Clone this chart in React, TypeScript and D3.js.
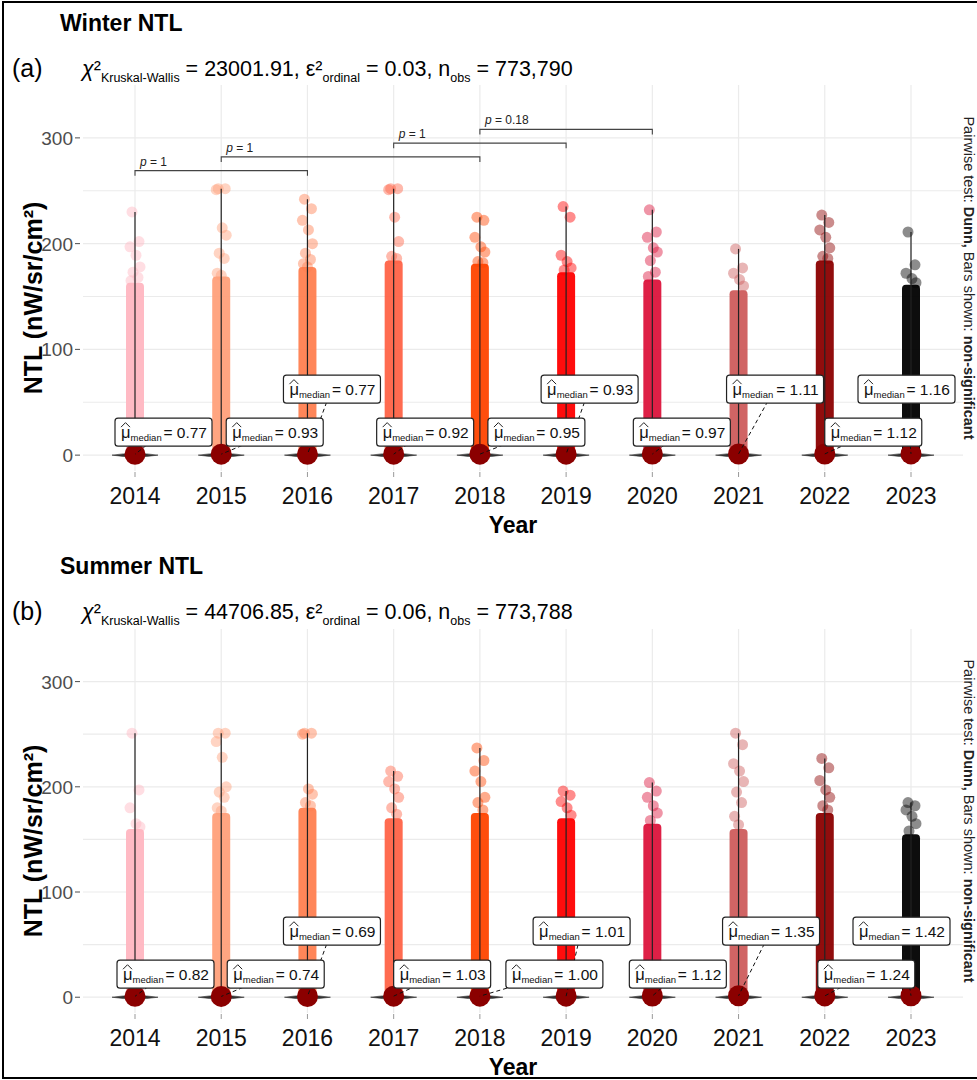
import React from "react";
import * as d3 from "d3";

const FONT = "'Liberation Sans', Arial, sans-serif";

// categories and colours
const years = ["2014", "2015", "2016", "2017", "2018", "2019", "2020", "2021", "2022", "2023"];
const yearColors = [
  "#FFB6C1", "#FFA07A", "#FF7F50", "#FF6347", "#FF4500",
  "#FF0000", "#DC143C", "#CD5C5C", "#8B0000", "#000000",
];
const yTicks = [0, 100, 200, 300];
const gridValues = [0, 50, 100, 150, 200, 250, 300];

// winter NTL (panel a)
const winterMedian = [0.77, 0.93, 0.77, 0.92, 0.95, 0.93, 0.97, 1.11, 1.12, 1.16];
const winterMax = [230, 252, 242, 252, 225, 235, 232, 195, 227, 211];
const winterDenseTop = [163, 169, 178, 184, 181, 173, 166, 156, 184, 161];
const winterOutliers = [
  [230, 202, 197, 189, 178, 173, 168, 165],
  [252, 252, 251, 215, 208, 191, 186, 172, 170],
  [242, 233, 222, 213, 200, 191, 185, 181, 178],
  [252, 252, 251, 225, 202, 188, 186],
  [225, 222, 206, 197, 192, 183, 182],
  [235, 225, 189, 183, 177, 175],
  [232, 211, 206, 196, 192, 184, 173, 169],
  [195, 177, 172, 166, 160],
  [227, 220, 213, 206, 196, 188, 186],
  [211, 180, 172, 167, 163],
];

// summer NTL (panel b)
const summerMedian = [0.82, 0.74, 0.69, 1.03, 1.0, 1.01, 1.12, 1.35, 1.24, 1.42];
const summerMax = [251, 251, 251, 215, 237, 196, 204, 251, 227, 185];
const summerDenseTop = [160, 175, 180, 170, 175, 170, 165, 160, 175, 155];
const summerOutliers = [
  [251, 197, 180, 165, 162],
  [251, 251, 243, 228, 200, 195, 190, 180, 177],
  [251, 251, 250, 198, 193, 185, 182],
  [215, 210, 205, 198, 190, 180, 174],
  [237, 225, 215, 205, 190, 185, 178],
  [196, 192, 186, 180, 173],
  [204, 196, 190, 182, 175, 168],
  [251, 240, 222, 215, 205, 195, 185, 172, 164],
  [227, 218, 206, 197, 190, 182, 178],
  [185, 182, 178, 172, 165, 158],
];

// pairwise comparisons shown (panel a)
const bracketFrom = ["2014", "2015", "2017", "2018"];
const bracketTo = ["2016", "2018", "2019", "2020"];
const bracketP = ["1", "1", "1", "0.18"];
const bracketLevel = [269, 282, 295, 308];

// label placement (like ggrepel output)
const labelTier = [0, 0, 1, 0, 0, 1, 0, 1, 0, 1];
const labelDxA = [-20, 5, -24, -17, 8, -25, -19, -12, 0, -53];
const labelDxB = [-18, 6, -24, 0, 26, -33, -23, -16, -7, -58];
const jitter = [-3, 4, -5, 1, 5, -2, 3, -4, 0, 2];

const x = d3.scalePoint<string>().domain(years).range([135, 911]);

function MedianLabel({ bx, by, value }: { bx: number; by: number; value: string }) {
  const w = 97;
  const h = 28;
  return (
    <g>
      <rect x={bx} y={by} width={w} height={h} rx={3} fill="#fff" stroke="#222" strokeWidth={1.2} />
      <path
        d={`M${bx + 6},${by + 9} L${bx + 10.5},${by + 4.5} L${bx + 15},${by + 9}`}
        fill="none"
        stroke="#222"
        strokeWidth={1}
      />
      <text x={bx + 6} y={by + 20} fontSize={16.5} fontFamily={FONT} fill="#111">
        μ
        <tspan fontSize={9.5} dy={3}>median</tspan>
      </text>
      <text x={bx + w - 5} y={by + 20} textAnchor="end" fontSize={15.5} fontFamily={FONT} fill="#111">
        {`= ${value}`}
      </text>
    </g>
  );
}

function Panel(props: {
  top: number;
  bottom: number;
  titleY: number;
  title: string;
  tag: string;
  chi: string;
  eps: string;
  nobs: string;
  medians: number[];
  maxes: number[];
  dense: number[];
  outliers: number[][];
  labelDx: number[];
  brackets: boolean;
}) {
  const { top, bottom, titleY, medians, maxes, dense, outliers, labelDx } = props;
  const y = d3.scaleLinear().domain([-15, 350]).range([bottom, top]);
  const y0 = y(0);
  const midY = (top + bottom) / 2;

  return (
    <g>
      <text x={60} y={titleY} fontSize={23} fontWeight="bold" fontFamily={FONT}>
        {props.title}
      </text>
      <text x={12} y={titleY + 46} fontSize={25} fontFamily={FONT}>
        {props.tag}
      </text>
      <text x={82} y={titleY + 45} fontSize={21.5} fontFamily={FONT}>
        <tspan fontStyle="italic">χ</tspan>
        <tspan>²</tspan>
        <tspan fontSize={12.5} dy={6}>Kruskal-Wallis</tspan>
        <tspan dy={-6}>{` = ${props.chi}, ε²`}</tspan>
        <tspan fontSize={12.5} dy={6}>ordinal</tspan>
        <tspan dy={-6}>{` = ${props.eps}, n`}</tspan>
        <tspan fontSize={12.5} dy={6}>obs</tspan>
        <tspan dy={-6}>{` = ${props.nobs}`}</tspan>
      </text>

      {/* grid */}
      {gridValues.map((v) => (
        <line key={"h" + v} x1={83} x2={963} y1={y(v)} y2={y(v)} stroke="#EBEBEB" strokeWidth={1.2} />
      ))}
      {years.map((yr) => (
        <line key={"v" + yr} x1={x(yr)} x2={x(yr)} y1={top} y2={bottom} stroke="#EBEBEB" strokeWidth={1.2} />
      ))}

      {/* y axis */}
      {yTicks.map((v) => (
        <g key={"t" + v}>
          <line x1={75} x2={80} y1={y(v)} y2={y(v)} stroke="#4D4D4D" />
          <text x={73} y={y(v) + 7} textAnchor="end" fontSize={19} fill="#4D4D4D" fontFamily={FONT}>
            {v}
          </text>
        </g>
      ))}
      <text
        transform={`translate(42,${midY + 20}) rotate(-90)`}
        textAnchor="middle"
        fontSize={25}
        fontWeight="bold"
        fontFamily={FONT}
      >
        NTL (nW/sr/cm²)
      </text>

      {/* x axis */}
      {years.map((yr) => (
        <g key={"x" + yr}>
          <line x1={x(yr)} x2={x(yr)} y1={bottom + 1} y2={bottom + 6} stroke="#999" />
          <text x={x(yr)} y={bottom + 33} textAnchor="middle" fontSize={23} fill="#111" fontFamily={FONT}>
            {yr}
          </text>
        </g>
      ))}
      <text x={513} y={bottom + 62} textAnchor="middle" fontSize={23} fontWeight="bold" fontFamily={FONT}>
        Year
      </text>

      {/* jittered observations */}
      {years.map((yr, i) => {
        const cx = x(yr) as number;
        return (
          <g key={"p" + yr} fill={yearColors[i]}>
            <rect
              x={cx - 9}
              y={y(dense[i])}
              width={18}
              height={y0 + 4 - y(dense[i])}
              rx={4}
              opacity={0.95}
            />
            {outliers[i].map((v, j) => (
              <circle key={j} cx={cx + jitter[j % jitter.length]} cy={y(v)} r={5.5} fillOpacity={0.45} />
            ))}
          </g>
        );
      })}

      {/* violin outline + whisker + median point */}
      {years.map((yr, i) => {
        const cx = x(yr) as number;
        return (
          <g key={"m" + yr}>
            <path
              d={`M${cx - 23},${y0} Q${cx},${y0 - 3.5} ${cx + 23},${y0} Q${cx},${y0 + 3.5} ${cx - 23},${y0} Z`}
              fill="#333"
              stroke="#333"
              strokeWidth={0.6}
            />
            <line x1={cx} x2={cx} y1={y(maxes[i])} y2={y0} stroke="#222" strokeWidth={1.2} />
            <circle cx={cx} cy={y(medians[i])} r={10.5} fill="#8B0000" />
          </g>
        );
      })}

      {/* pairwise brackets */}
      {props.brackets &&
        bracketFrom.map((f, i) => {
          const x1 = x(f) as number;
          const x2 = x(bracketTo[i]) as number;
          const by = y(bracketLevel[i]);
          return (
            <g key={"b" + i}>
              <path
                d={`M${x1},${by + 5} L${x1},${by} L${x2},${by} L${x2},${by + 5}`}
                fill="none"
                stroke="#444"
                strokeWidth={1.1}
              />
              <text x={x1 + 5} y={by - 5} fontSize={12} fill="#222" fontFamily={FONT}>
                <tspan fontStyle="italic">p</tspan>
                {` = ${bracketP[i]}`}
              </text>
            </g>
          );
        })}

      {/* median labels */}
      {years.map((yr, i) => {
        const cx = x(yr) as number;
        const by = labelTier[i] ? y0 - 80 : y0 - 37;
        const bx = cx + labelDx[i];
        return (
          <line
            key={"s" + yr}
            x1={bx + 48}
            y1={by + 14}
            x2={cx}
            y2={y(medians[i])}
            stroke="#111"
            strokeWidth={1}
            strokeDasharray="4,3"
          />
        );
      })}
      {years.map((yr, i) => {
        const cx = x(yr) as number;
        const by = labelTier[i] ? y0 - 80 : y0 - 37;
        return <MedianLabel key={"lb" + yr} bx={cx + labelDx[i]} by={by} value={medians[i].toFixed(2)} />;
      })}

      {/* caption on the right */}
      <text transform={`translate(964,${midY}) rotate(90)`} textAnchor="middle" fontSize={14.5} fill="#222" fontFamily={FONT}>
        {"Pairwise test: "}
        <tspan fontWeight="bold">Dunn,</tspan>
        {" Bars shown: "}
        <tspan fontWeight="bold">non-significant</tspan>
      </text>
    </g>
  );
}

export default function App() {
  return (
    <svg
      width={977}
      height={1080}
      style={{ position: "absolute", left: 0, top: 0, background: "#fff" }}
    >
      <rect x={0} y={0} width={977} height={1080} fill="#fff" />
      <Panel
        top={85}
        bottom={471}
        titleY={31}
        title="Winter NTL"
        tag="(a)"
        chi="23001.91"
        eps="0.03"
        nobs="773,790"
        medians={winterMedian}
        maxes={winterMax}
        dense={winterDenseTop}
        outliers={winterOutliers}
        labelDx={labelDxA}
        brackets={true}
      />
      <Panel
        top={629}
        bottom={1013}
        titleY={574}
        title="Summer NTL"
        tag="(b)"
        chi="44706.85"
        eps="0.06"
        nobs="773,788"
        medians={summerMedian}
        maxes={summerMax}
        dense={summerDenseTop}
        outliers={summerOutliers}
        labelDx={labelDxB}
        brackets={false}
      />
      <rect x={3} y={2} width={990} height={1076} fill="none" stroke="#000" strokeWidth={2} />
    </svg>
  );
}
